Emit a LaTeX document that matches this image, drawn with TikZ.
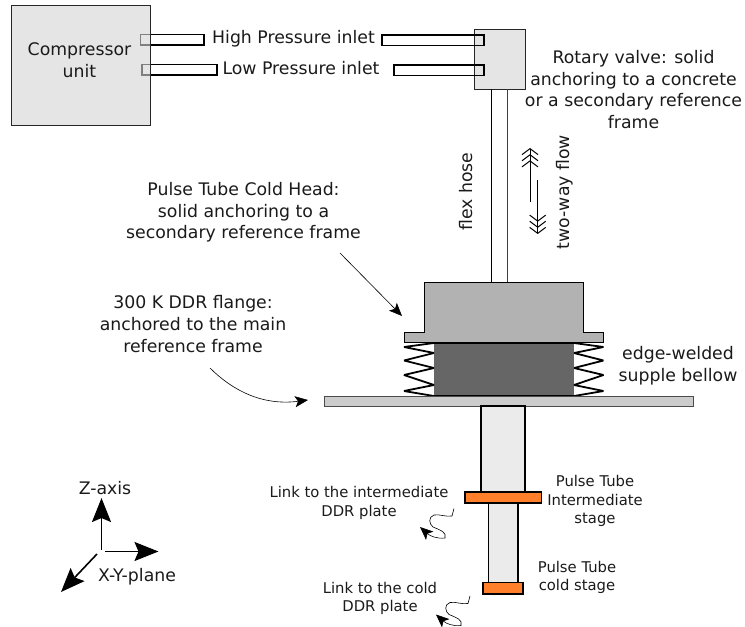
\documentclass[tikz,border=0pt]{standalone}
\usepackage{fontspec}
\setmainfont{DejaVu Sans}
\usetikzlibrary{arrows.meta}
\definecolor{txt}{HTML}{1A1A1A}
\definecolor{orng}{HTML}{FF7F2A}
\tikzset{
  lab/.style={align=center,inner sep=0pt,text=txt,font=\fontsize{17.3}{21.6}\selectfont},
  smalllab/.style={align=center,inner sep=0pt,text=txt,font=\fontsize{14.8}{18.5}\selectfont},
  tube/.style={draw=black,line width=1.1pt,fill=white},
  column/.style={draw=black,line width=1.6pt,fill=black!8},
  stageplate/.style={draw=black,line width=1.6pt,fill=orng},
  pointer/.style={line width=.6pt,-{Stealth[length=13pt,width=11pt,inset=3pt]}},
  axisarrow/.style={line width=1.6pt,-{Stealth[length=24pt,width=19pt,inset=4pt]}},
  flow/.style={line width=1pt,-{Straight Barb[length=6pt,width=16pt,sep=-1pt]Straight Barb[length=6pt,width=16pt,sep=-1pt]Straight Barb[length=6pt,width=16pt]}},
  tooth/.style={draw=black,line width=1.8pt,line join=bevel}
}
\begin{document}
\begin{tikzpicture}[x=1pt,y=-1pt]
\useasboundingbox (0,0) rectangle (745,627);
% inlets
\draw[tube] (140.5,34.5) rectangle (204,45);
\draw[tube] (142,64.5) rectangle (217,75);
\draw[tube] (382,35) rectangle (484,45.5);
\draw[tube] (394,65) rectangle (484,75.5);
% compressor and valve (translucent over the inlets)
\path[fill=black!17,fill opacity=.6] (11,5) rectangle (150.5,125);
\path[fill=black!17,fill opacity=.6] (474,29) rectangle (525,89);
\draw[black!85,line width=1pt] (11,5) rectangle (150.5,125);
\draw[black!85,line width=1pt] (474,29) rectangle (525,89);
\draw[line width=1.1pt] (474,35) -- (484,35) -- (484,45.5) -- (474,45.5);
\draw[line width=1.1pt] (474,65) -- (484,65) -- (484,75.5) -- (474,75.5);
% hose
\draw[line width=.8pt] (491.5,89) -- (491.5,282);
\draw[line width=1.2pt,draw=black!75] (507.5,89) -- (507.5,282);
% cold head
\draw[draw=black,line width=1pt,fill=black!30,line join=miter]
  (424,282) -- (583.5,282) -- (583.5,332) -- (603.5,332) -- (603.5,342) -- (404,342) -- (404,332) -- (424,332) -- cycle;
% bellows
\fill[black!60] (434,343) rectangle (574,396);
\draw[tooth] (434,343) -- (574,343);
\draw[tooth] (434,396) -- (574,396);
\draw[tooth] (434,343) -- (404,347) -- (434,353) -- (404,360.5) -- (434,368) -- (404,375) -- (434,385) -- (404,391) -- (434,396);
\draw[tooth] (574,343) -- (603.5,347) -- (574,353) -- (603.5,360.5) -- (574,368) -- (603.5,375) -- (574,385) -- (603.5,391) -- (574,396);
% DDR flange
\draw[draw=black!70,line width=1pt,fill=black!20] (324,396.5) rectangle (693.5,406);
% pulse tube column
\draw[column] (481,406) rectangle (525,492);
\draw[column] (488.5,503) rectangle (518,582.5);
\draw[stageplate] (465,492) rectangle (541.5,503);
\draw[stageplate] (483,582.5) rectangle (523,594);
% texts
\node[lab] (comp) at (79.5,60) {Compressor\\unit};
\node[lab] (hp) at (293.5,38.5) {High Pressure inlet};
\node[lab] (lp) at (301,68.5) {Low Pressure inlet};
\node[lab] (rot) at (633.5,89.5) {Rotary valve: solid\\anchoring to a concrete\\or a secondary reference\\frame};
\node[lab,rotate=90] (flex) at (466,191.5) {flex hose};
\node[lab,rotate=90] (two) at (565,192) {two-way flow};
\node[lab] (head) at (243.5,212.5) {Pulse Tube Cold Head:\\solid anchoring to a\\secondary reference frame};
\node[lab] (flange) at (193,324) {300 K DDR flange:\\anchored to the main\\reference frame};
\node[lab] (bell) at (678,366) {edge-welded\\supple bellow};
\node[smalllab] (inter) at (595,501) {Pulse Tube\\Intermediate\\stage};
\node[smalllab] (cold) at (577,577.5) {Pulse Tube\\cold stage};
\node[smalllab] (l1) at (359,503) {Link to the intermediate\\DDR plate};
\node[smalllab] (l2) at (380,598.5) {Link to the cold\\DDR plate};
\node[lab] (zax) at (105,488) {Z-axis};
\node[lab] (xy) at (137,577) {X-Y-plane};
% pointers
\coordinate (p1s) at (340,253); \coordinate (p1e) at (402,316);
\draw[pointer] (p1s) -- (p1e);
\coordinate (p2s) at (210,368); \coordinate (p2e) at (308,400);
\draw[pointer] (p2s) .. controls (232,390) and (262,406) .. (p2e);
% flow arrows
\coordinate (f1s) at (530,202); \coordinate (f1e) at (530,148);
\coordinate (f2s) at (537.7,180); \coordinate (f2e) at (537.7,234);
\draw[flow] (f1s) -- (f1e);
\draw[flow] (f2s) -- (f2e);
% squiggles
\coordinate (s1) at (454,508.5); \coordinate (s1e) at (420,527);
\draw[pointer] (s1) -- (452,516) .. controls (445,517) and (440,514) .. (434,515)
  .. controls (428,517) and (429,524) .. (433,527) .. controls (440,530) and (447,532) .. (445,538)
  .. controls (437,539) and (430,536) .. (s1e);
\coordinate (s2) at (470,596); \coordinate (s2e) at (436,614.5);
\draw[pointer] (s2) -- (468,603.5) .. controls (461,604.5) and (456,601.5) .. (450,602.5)
  .. controls (444,604.5) and (445,611.5) .. (449,614.5) .. controls (456,617.5) and (463,619.5) .. (461,625.5)
  .. controls (453,626.5) and (446,623.5) .. (s2e);
% axes
\coordinate (oz) at (101.5,550); \coordinate (zt) at (101.5,498);
\coordinate (ox) at (105,551.5); \coordinate (xt) at (158.5,551.5);
\coordinate (oy) at (97,554); \coordinate (yt) at (61,592);
\draw[axisarrow] (oz) -- (zt);
\draw[axisarrow] (ox) -- (xt);
\draw[axisarrow] (oy) -- (yt);
\end{tikzpicture}
\end{document}
